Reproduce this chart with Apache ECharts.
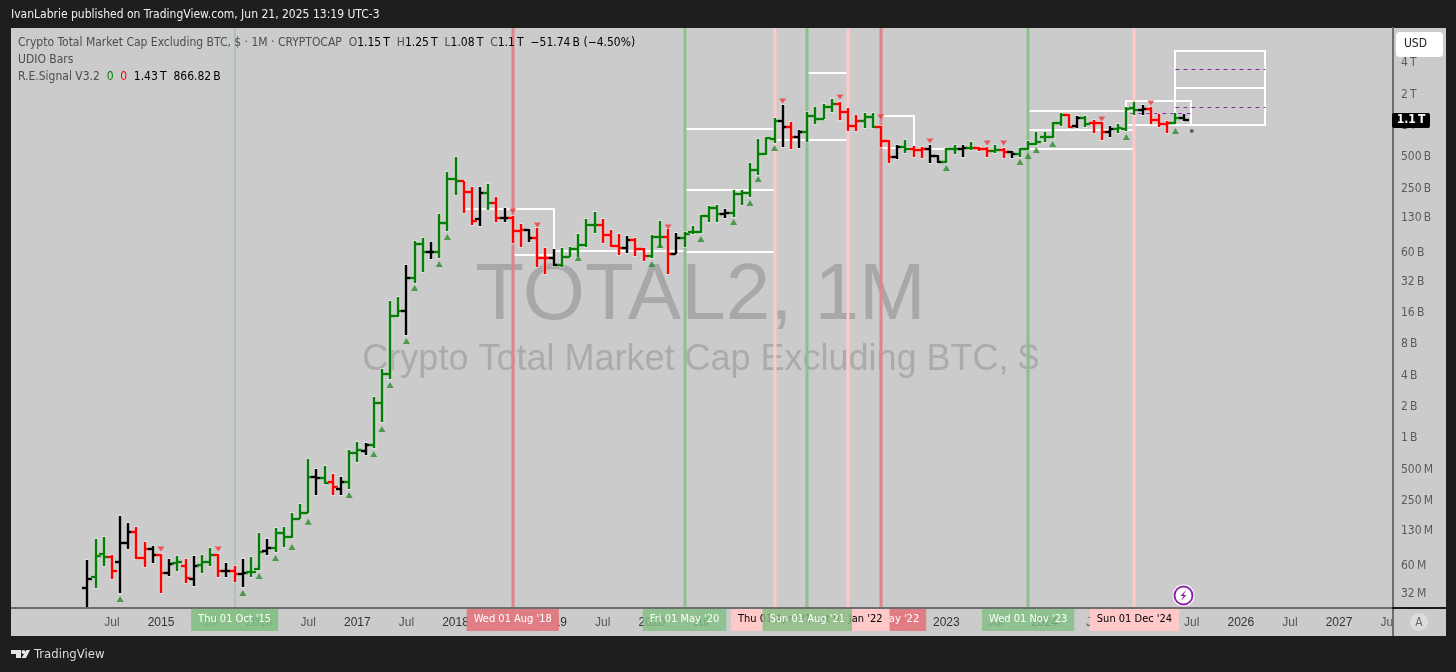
<!DOCTYPE html>
<html>
<head>
<meta charset="utf-8">
<title>TOTAL2, 1M</title>
<script src="https://cdn.jsdelivr.net/npm/echarts@6/dist/echarts.min.js"></script>
<style>
html, body { margin: 0; padding: 0; background: #1e1e1e; }
#chart { width: 1456px; height: 672px; }
</style>
</head>
<body>
<div id="chart"></div>
<script>
// months are counted from Jan 2015, prices are in millions of USD
const firstMonth = -9 // Apr 2014
const opens = [36.6, 46.6, 77.5, 72.5, 64.9, 98.9, 126, 70.9, 86.6, 75.8, 50.9, 63.5, 59.4, 44.6, 60.7, 64.9, 75.8, 53.2, 53.2, 49.8, 52, 55.6, 82.8, 88.5, 123.6, 113, 169, 192, 425, 416, 381, 326, 381, 723, 756, 863, 2183, 4146, 14940, 16690, 34640, 73450, 61540, 61540, 116830, 309000, 295800, 231800, 127640, 226800, 181800, 130500, 130500, 97900, 100100, 83870, 53900, 53900, 46170, 55100, 65750, 71840, 111780, 111780, 89640, 70270, 67220, 80250, 65750, 56300, 85750, 85750, 58880, 83870, 95780, 95780, 136400, 162800, 142600, 145800, 221800, 226800, 377300, 537300, 748300, 1114000, 975500, 782100, 873500, 1245000, 1165000, 1519000, 1623000, 1360000, 997300, 1114000, 1218000, 975500, 716000, 502800, 627100, 600000, 586900, 600000, 514000, 450000, 600000, 600000, 613300, 613300, 600000, 574000, 586900, 561500, 537300, 600000, 670000, 782100, 782100, 1066000, 1273000, 997300, 1191000, 1066000, 1066000, 873500, 933400, 933400, 1486000, 1421000, 1453000, 1139000, 1042400, 1066000, 1191000]
const highs = [67.9, 108, 113, 75.8, 180, 154, 141, 101, 92.5, 77.5, 69.4, 74.1, 69.4, 74.1, 75.8, 88.5, 77.5, 63.5, 59.4, 69.4, 72.5, 123.6, 108, 138, 141, 192, 234, 633, 507, 542, 454, 425, 773, 922, 902, 2493, 4632, 20824, 22760, 46170, 78500, 83870, 76780, 142600, 361000, 502800, 295800, 259000, 259000, 276900, 207500, 162800, 136400, 114280, 102350, 104600, 67220, 65750, 67220, 68730, 91640, 127640, 149050, 127640, 100100, 91640, 87670, 83870, 67220, 89640, 122100, 102350, 93680, 95780, 109330, 139460, 170200, 174000, 159300, 242300, 242300, 440500, 748300, 782100, 1191000, 1588000, 1090000, 913000, 1360000, 1519000, 1623000, 1813000, 1697000, 1486000, 1273000, 1330000, 1330000, 997300, 731900, 655400, 731900, 641000, 627100, 655400, 525400, 613300, 655400, 655400, 700300, 627100, 627100, 655400, 613300, 574000, 613300, 716000, 873500, 873500, 1090000, 1330000, 1301000, 1245000, 1245000, 1139000, 1090000, 997300, 1042400, 1519000, 1697000, 1588000, 1519000, 1301000, 1114000, 1330000, 1301000]
const lows = [22.5, 36.6, 59.4, 44.6, 32.7, 86.6, 69.4, 58.1, 63.5, 32.7, 47.6, 53.2, 40.8, 38.2, 50.9, 59.4, 46.6, 46.6, 41.7, 37.4, 46.6, 54.4, 75.8, 81, 90.5, 110.5, 169, 192, 286, 364, 286, 286, 326, 593, 692, 807, 1435, 3713, 14622, 9822, 31020, 39560, 52730, 53900, 97900, 216900, 145800, 111780, 109330, 155800, 119440, 119440, 75100, 68730, 76780, 44160, 37800, 45150, 44160, 55100, 55100, 68730, 93680, 75100, 68730, 57590, 60200, 56300, 50430, 53900, 67220, 37800, 58880, 68730, 91640, 93680, 119440, 119440, 130500, 133400, 174000, 207500, 337800, 525400, 685000, 627100, 600000, 613300, 700300, 1042400, 1165000, 1360000, 1139000, 893000, 893000, 954200, 954200, 627100, 440500, 481000, 549200, 502800, 491800, 440500, 440500, 440500, 537300, 502800, 586900, 574000, 502800, 549200, 491800, 491800, 502800, 586900, 655400, 700300, 765000, 997300, 954200, 954200, 975500, 854400, 731900, 782100, 854400, 893000, 1273000, 1273000, 1042400, 975500, 854400, 1042400, 1114000]
const closes = [44.6, 74.1, 72.5, 53.2, 98.9, 126, 70.9, 86.6, 75.8, 50.9, 62.1, 64.9, 45.6, 59.4, 64.9, 75.8, 53.2, 53.2, 49.8, 50.9, 52, 81, 88.5, 123.6, 113, 169, 192, 425, 416, 372, 341, 381, 723, 773, 863, 2183, 4146, 14940, 16690, 34640, 73450, 61540, 61540, 116830, 309000, 295800, 231800, 122100, 226800, 181800, 130500, 130500, 97900, 100100, 83870, 53900, 53900, 46170, 55100, 65750, 71840, 111780, 111780, 89640, 70270, 67220, 80250, 65750, 56300, 85750, 85750, 58880, 83870, 91640, 95780, 136400, 162800, 142600, 145800, 221800, 226800, 377300, 537300, 765000, 1114000, 975500, 782100, 873500, 1245000, 1165000, 1519000, 1623000, 1360000, 997300, 1114000, 1218000, 975500, 716000, 502800, 627100, 600000, 586900, 600000, 514000, 450000, 600000, 600000, 613300, 613300, 600000, 574000, 586900, 561500, 537300, 600000, 670000, 700300, 782100, 1066000, 1273000, 975500, 1191000, 1042400, 1066000, 873500, 933400, 954200, 1453000, 1421000, 1453000, 1139000, 1042400, 1066000, 1191000, 1139000]
// k black, g green, r red, one letter per bar
const barTrend = ('kggrkkrrk' + 'rkgrkggrkrk' + 'ggkggggg' + 'kgrk' + 'ggk' + 'gggg' + 'k' + 'gg' + 'k' + 'ggg' + 'rr' + 'k' + 'g' + 'r' + 'k' + 'rr' + 'k' + 'rr' + 'k' +
  'ggggg' + 'rrr' + 'k' + 'rr' + 'gg' + 'r' + 'k' + 'ggggg' + 'k' + 'gggggg' + 'k' + 'r' + 'k' + 'gggg' + 'rrr' + 'gg' + 'rr' + 'k' + 'g' + 'rr' + 'kk' + 'gg' + 'k' + 'g' +
  'rr' + 'g' + 'r' + 'k' + 'gggggg' + 'r' + 'k' + 'g' + 'rr' + 'k' + 'ggg' + 'k' + 'rrr' + 'g' + 'k').split('')

const upMonths = [-5, 10, 12, 14, 16, 18, 23, 26, 27, 28, 30, 31, 34, 35, 51, 60, 61, 66, 70, 72, 73, 75, 96, 105, 106, 107, 109, 118, 124]
const upValues = [28.6, 32.7, 47.6, 70.9, 90.5, 158, 286, 707, 1229, 3250, 8600, 27760, 47190, 85750, 53900, 47190, 71840, 82040, 119440, 181800, 309000, 613300, 394300, 450000, 514000, 586900, 670000, 782100, 893000]
const downMonths = [0, 7, 43, 46, 62, 76, 83, 88, 94, 101, 103, 115, 121]
const downValues = [86.6, 86.6, 152300, 111780, 106940, 1735000, 1895000, 1218000, 716000, 685000, 685000, 1165000, 1660000]
const dotMonths = [126]
const dotValues = [893000]

// white projection boxes and loose levels
const boxStart = [43, 64, 79, 88, 106, 118, 124]
const boxEnd = [48, 75, 84, 92, 119, 126, 135]
const boxTop = [159300, 933400, 3219000, 1245000, 1390000, 1735000, 5238000]
const boxBottom = [57590, 61540, 731900, 613300, 913000, 1019600, 1019600]
const levelStart = [37, 48, 64, 75, 92, 106, 124]
const levelEnd = [43, 64, 75, 79, 96, 119, 135]
const levelValue = [159300, 62920, 242300, 731900, 600000, 600000, 2311000]
const dashStart = [124, 124, 118.5]
const dashEnd = [135, 135, 126]
const dashValue = [3517000, 1519000, 1330000]

// drawn back to front, that is why it is not in date order
const eventMonths = [9, 43, 64, 88, 84, 75, 79, 106, 119]
const eventLabels = ['Thu 01 Oct \'15', 'Wed 01 Aug \'18', 'Fri 01 May \'20', 'Sun 01 May \'22', 'Sat 01 Jan \'22', 'Thu 01 Apr \'21', 'Sun 01 Aug \'21', 'Wed 01 Nov \'23', 'Sun 01 Dec \'24']
const eventKinds = ['thin', 'red', 'green', 'red', 'pink', 'pink', 'green', 'green', 'pink']

const xTickLabels = ['Jul', '2015', 'Jul', '2016', 'Jul', '2017', 'Jul', '2018', 'Jul', '2019', 'Jul', '2020', 'Jul', '2021', 'Jul', '2022', 'Jul', '2023', 'Jul', '2024', 'Jul', '2025', 'Jul', '2026', 'Jul', '2027', 'Jul']
const yTickValues = [32, 60, 130, 250, 500, 1000, 2000, 4000, 8000, 16000, 32000, 60000, 130000, 250000, 500000, 1000000, 2000000, 4000000]
const yTickLabels = ['32\u2009M', '60\u2009M', '130\u2009M', '250\u2009M', '500\u2009M', '1\u2009B', '2\u2009B', '4\u2009B', '8\u2009B', '16\u2009B', '32\u2009B', '60\u2009B', '130\u2009B', '250\u2009B', '500\u2009B', '1\u2009T', '2\u2009T', '4\u2009T']

const lastPrice = closes[closes.length - 1]
const lastPriceLabel = '1.1\u2009T'

const FONT = '"DejaVu Sans Condensed", "Noto Sans", sans-serif'
const BAR_COLORS = { k: '#000000', g: '#067d06', r: '#ff0000' }
const EVENT_LINE = {
  thin: { color: '#8fbf8f', width: 1 },
  green: { color: '#8fbf8f', width: 3 },
  red: { color: '#e0838a', width: 3 },
  pink: { color: '#ffc9c9', width: 3 }
}
const EVENT_FLAG = {
  thin: { bg: 'rgba(129,190,129,0.88)', text: '#ffffff' },
  green: { bg: 'rgba(129,190,129,0.8)', text: '#ffffff' },
  red: { bg: 'rgba(226,120,128,0.95)', text: '#ffffff' },
  pink: { bg: 'rgba(255,201,201,1)', text: '#000000' }
}

const PANEL = '#cbcbcb'
const chart = echarts.init(document.getElementById('chart'))

function renderBar(params, api) {
  const i = params.dataIndex
  const color = BAR_COLORS[barTrend[i]]
  const month = api.value(0)
  const x = Math.round(api.coord([month, api.value(1)])[0])
  const yo = Math.round(api.coord([month, api.value(1)])[1])
  const yh = Math.round(api.coord([month, api.value(2)])[1])
  const yl = Math.round(api.coord([month, api.value(3)])[1])
  const yc = Math.round(api.coord([month, api.value(4)])[1])
  const rect = (rx, ry, w, h, fill) => ({ type: 'rect', shape: { x: rx, y: ry, width: w, height: h }, style: { fill: fill } })
  const halo = 'rgba(255,255,255,0.4)'
  return {
    type: 'group',
    children: [
      rect(x - 2.25, yh - 1, 4.5, yl - yh + 2, halo),
      rect(x - 5, yo - 2, 5, 4, halo),
      rect(x, yc - 2, 5, 4, halo),
      rect(x - 1.25, yh, 2.5, yl - yh, color),
      rect(x - 5, yo - 1.25, 5, 2.5, color),
      rect(x, yc - 1.25, 5, 2.5, color)
    ]
  }
}

function renderBox(params, api) {
  const a = api.coord([api.value(0), api.value(2)])
  const b = api.coord([api.value(1), api.value(3)])
  return {
    type: 'rect',
    shape: { x: Math.round(a[0]), y: Math.round(a[1]), width: Math.round(b[0] - a[0]), height: Math.round(b[1] - a[1]) },
    style: { fill: 'transparent', stroke: '#ffffff', lineWidth: 2 }
  }
}

function renderLevel(params, api) {
  const a = api.coord([api.value(0), api.value(2)])
  const b = api.coord([api.value(1), api.value(2)])
  return {
    type: 'line',
    shape: { x1: a[0], y1: Math.round(a[1]), x2: b[0], y2: Math.round(b[1]) },
    style: { stroke: '#ffffff', lineWidth: 2 }
  }
}

function renderDash(params, api) {
  const a = api.coord([api.value(0), api.value(2)])
  const b = api.coord([api.value(1), api.value(2)])
  return {
    type: 'line',
    shape: { x1: a[0], y1: Math.round(a[1]) + 0.5, x2: b[0], y2: Math.round(b[1]) + 0.5 },
    style: { stroke: '#8e24aa', lineWidth: 1, lineDash: [4, 4] }
  }
}

function renderEventLine(params, api) {
  const kind = EVENT_LINE[eventKinds[params.dataIndex]]
  const cs = params.coordSys
  const x = Math.round(api.coord([api.value(0), lastPrice])[0])
  return {
    type: 'rect',
    shape: { x: x - kind.width / 2, y: cs.y, width: kind.width, height: cs.height },
    style: { fill: kind.color }
  }
}

function renderEventFlag(params, api) {
  const kind = EVENT_FLAG[eventKinds[params.dataIndex]]
  const cs = params.coordSys
  const x = api.coord([api.value(0), lastPrice])[0]
  return {
    type: 'text',
    style: {
      text: eventLabels[params.dataIndex],
      x: x,
      y: cs.y + cs.height,
      align: 'center',
      verticalAlign: 'top',
      font: '11px ' + FONT,
      fill: kind.text,
      backgroundColor: kind.bg,
      padding: [6, 7, 6, 7]
    }
  }
}

function renderLastPrice(params, api) {
  const cs = params.coordSys
  const y = Math.round(api.coord([0, api.value(0)])[1])
  return {
    type: 'group',
    children: [
      {
        type: 'rect',
        shape: { x: cs.x + cs.width - 1, y: y - 7, width: 38, height: 15, r: 2 },
        style: { fill: '#000000' }
      },
      {
        type: 'text',
        style: {
          text: lastPriceLabel,
          x: cs.x + cs.width + 18,
          y: y,
          align: 'center',
          verticalAlign: 'middle',
          font: 'bold 12px ' + FONT,
          fill: '#ffffff'
        }
      }
    ]
  }
}

const legendRich = {
  g: { fill: '#4d4d4d', font: '12px ' + FONT },
  b: { fill: '#000000', font: '12px ' + FONT },
  up: { fill: '#067d06', font: '12px ' + FONT },
  dn: { fill: '#ff0000', font: '12px ' + FONT }
}

const option = {
  backgroundColor: '#1e1e1e',
  animation: false,
  grid: { left: 13.76, right: 63, top: 28, bottom: 64 },
  xAxis: {
    type: 'value',
    min: -18,
    max: 150.6,
    interval: 6,
    splitLine: { show: false },
    axisTick: { show: false },
    axisLine: { show: false },
    axisLabel: {
      margin: 9,
      hideOverlap: false,
      showMinLabel: true,
      showMaxLabel: true,
      formatter: function (v) {
        const label = xTickLabels[(v + 6) / 6]
        if (!label) return ''
        return label === 'Jul' ? '{m|Jul}' : '{y|' + label + '}'
      },
      rich: {
        m: { color: '#555555', font: '12px ' + FONT },
        y: { color: '#333333', font: 'bold 12px ' + FONT }
      }
    }
  },
  yAxis: {
    type: 'log',
    logBase: 2,
    position: 'right',
    min: 23.48,
    max: 8710000,
    splitLine: { show: false },
    axisTick: { show: false },
    axisLine: { show: true, onZero: false, lineStyle: { color: '#6e6e6e', width: 2 } },
    axisLabel: {
      margin: 8,
      color: '#5a5a5a',
      fontSize: 12,
      fontFamily: FONT,
      hideOverlap: false,
      customValues: yTickValues,
      formatter: function (v) {
        const k = yTickValues.findIndex(t => Math.abs(Math.log2(t) - Math.log2(v)) < 0.001)
        return k >= 0 ? yTickLabels[k] : ''
      }
    }
  },
  graphic: [
    { type: 'rect', z: -10, shape: { x: 11, y: 28, width: 1435, height: 608 }, style: { fill: PANEL } },
    { type: 'text', z: -5, style: { text: 'TOTAL2, 1M', x: 700.5, y: 297, align: 'center', verticalAlign: 'middle', font: '80px "Liberation Sans"', fill: '#a8a8a8' } },
    { type: 'text', z: -5, style: { text: 'Crypto Total Market Cap Excluding BTC, $', x: 700.5, y: 360, align: 'center', verticalAlign: 'middle', font: '36px "Liberation Sans"', fill: '#ababab' } },
    { type: 'text', z: 1, style: { text: 'IvanLabrie published on TradingView.com, Jun 21, 2025 13:19 UTC-3', x: 11, y: 15, verticalAlign: 'middle', font: '12px ' + FONT, fill: '#f0f0f0' } },
    { type: 'text', z: 20, style: { x: 18, y: 43, verticalAlign: 'middle', text: '{g|Crypto Total Market Cap Excluding BTC, $ · 1M · CRYPTOCAP  }{g|O}{b|1.15\u2009T  }{g|H}{b|1.25\u2009T  }{g|L}{b|1.08\u2009T  }{g|C}{b|1.1\u2009T  −51.74\u2009B (−4.50%)}', rich: legendRich } },
    { type: 'text', z: 20, style: { x: 18, y: 60, verticalAlign: 'middle', text: '{g|UDIO Bars}', rich: legendRich } },
    { type: 'text', z: 20, style: { x: 18, y: 77, verticalAlign: 'middle', text: '{g|R.E.Signal V3.2  }{up|0}  {dn|0}  {b|1.43\u2009T  866.82\u2009B}', rich: legendRich } },
    // axis lines and the corner, the last Jul label is cut at the price scale
    { type: 'rect', z: 10, shape: { x: 1394, y: 609, width: 52, height: 27 }, style: { fill: PANEL } },
    { type: 'rect', z: 11, shape: { x: 11, y: 607, width: 1382, height: 2 }, style: { fill: '#6e6e6e' } },
    { type: 'rect', z: 11, shape: { x: 1392, y: 607, width: 54, height: 2 }, style: { fill: '#1a1a1a' } },
    { type: 'rect', z: 11, shape: { x: 1392, y: 609, width: 2, height: 27 }, style: { fill: '#6e6e6e' } },
    { type: 'circle', z: 12, shape: { cx: 1419, cy: 622, r: 9 }, style: { fill: '#dcdcdc' } },
    { type: 'text', z: 13, style: { text: 'A', x: 1419, y: 623, align: 'center', verticalAlign: 'middle', font: '12px ' + FONT, fill: '#6a6a6a' } },
    { type: 'rect', z: 20, shape: { x: 1396, y: 32, width: 47, height: 25, r: 4 }, style: { fill: '#ffffff' } },
    { type: 'text', z: 21, style: { text: 'USD', x: 1415.5, y: 44, align: 'center', verticalAlign: 'middle', font: '12px ' + FONT, fill: '#222222' } },
    // lightning badge
    { type: 'circle', z: 20, shape: { cx: 1183.5, cy: 595.5, r: 11 }, style: { fill: '#ffffff' } },
    { type: 'circle', z: 21, shape: { cx: 1183.5, cy: 595.5, r: 9 }, style: { fill: '#ffffff', stroke: '#8e24aa', lineWidth: 2 } },
    { type: 'polygon', z: 22, shape: { points: [[1186, 590], [1180.5, 596], [1183.5, 596], [1181, 601], [1186.5, 595], [1183.5, 595]] }, style: { fill: '#8e24aa' } },
    // footer logo
    { type: 'polygon', z: 5, shape: { points: [[11, 650], [21, 650], [21, 658], [16, 658], [16, 654], [11, 654]] }, style: { fill: '#e6e6e6' } },
    { type: 'circle', z: 5, shape: { cx: 23.5, cy: 652, r: 2 }, style: { fill: '#e6e6e6' } },
    { type: 'polygon', z: 5, shape: { points: [[26.5, 650], [30, 650], [26, 658], [21.5, 658]] }, style: { fill: '#e6e6e6' } },
    { type: 'text', z: 5, style: { text: 'TradingView', x: 34, y: 655, verticalAlign: 'middle', font: '13px ' + FONT, fill: '#dcdcdc' } }
  ],
  series: [
    {
      type: 'custom',
      z: 2,
      clip: true,
      renderItem: renderBox,
      encode: { x: [0, 1], y: [2, 3] },
      data: boxStart.map((m, i) => [m, boxEnd[i], boxTop[i], boxBottom[i]])
    },
    {
      type: 'custom',
      z: 2,
      clip: true,
      renderItem: renderLevel,
      encode: { x: [0, 1], y: 2 },
      data: levelStart.map((m, i) => [m, levelEnd[i], levelValue[i]])
    },
    {
      type: 'custom',
      z: 3,
      renderItem: renderEventLine,
      encode: { x: 0 },
      data: eventMonths.map(m => [m])
    },
    {
      type: 'custom',
      z: 4,
      clip: true,
      renderItem: renderDash,
      encode: { x: [0, 1], y: 2 },
      data: dashStart.map((m, i) => [m, dashEnd[i], dashValue[i]])
    },
    {
      type: 'custom',
      z: 5,
      clip: true,
      renderItem: renderBar,
      encode: { x: 0, y: [1, 2, 3, 4] },
      data: opens.map((o, i) => [firstMonth + i, o, highs[i], lows[i], closes[i]])
    },
    {
      type: 'scatter',
      z: 6,
      symbol: 'triangle',
      symbolSize: [7, 6],
      itemStyle: { color: '#2c8c2c' },
      data: upMonths.map((m, i) => [m, upValues[i]])
    },
    {
      type: 'scatter',
      z: 6,
      symbol: 'triangle',
      symbolRotate: 180,
      symbolSize: [7, 5],
      itemStyle: { color: '#ef3b3b' },
      data: downMonths.map((m, i) => [m, downValues[i]])
    },
    {
      type: 'scatter',
      z: 6,
      symbol: 'circle',
      symbolSize: 4,
      itemStyle: { color: '#444444' },
      data: dotMonths.map((m, i) => [m, dotValues[i]])
    },
    {
      type: 'custom',
      z: 8,
      renderItem: renderEventFlag,
      encode: { x: 0 },
      data: eventMonths.map(m => [m])
    },
    {
      type: 'custom',
      z: 9,
      renderItem: renderLastPrice,
      encode: { y: 0 },
      data: [[lastPrice]]
    }
  ]
}

chart.setOption(option)
</script>
</body>
</html>
